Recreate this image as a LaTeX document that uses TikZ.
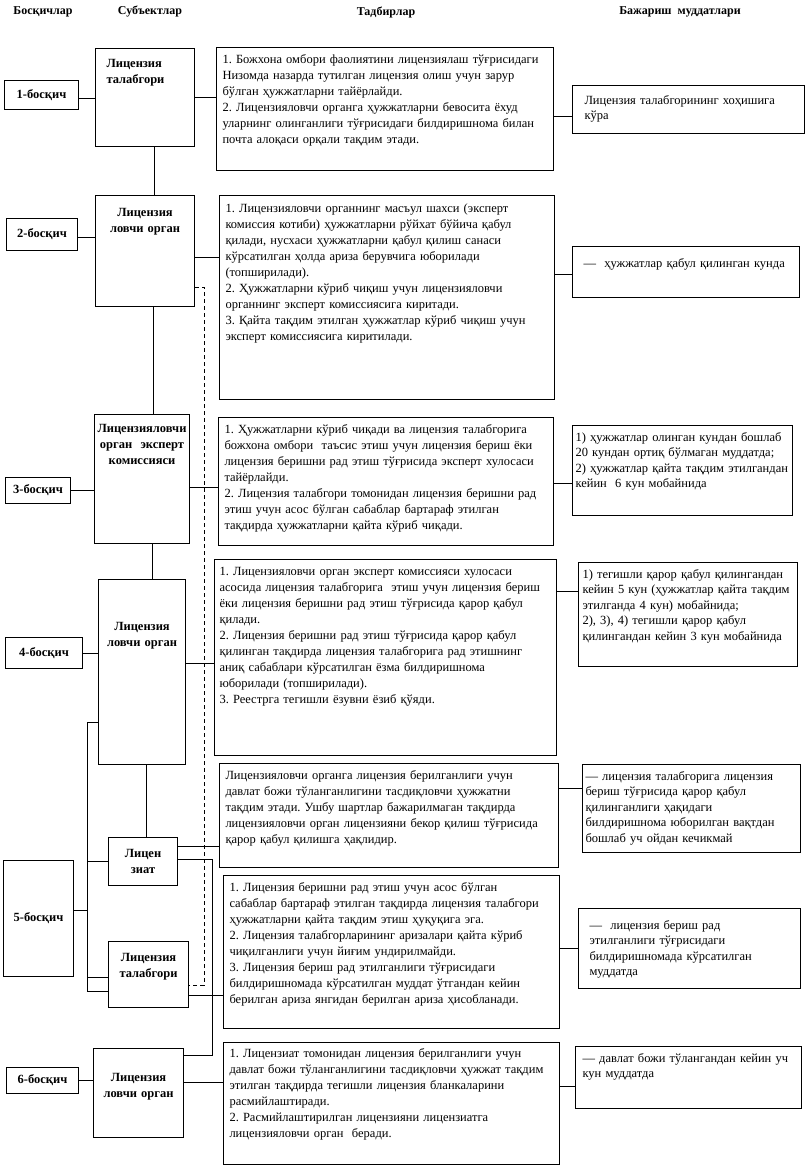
\documentclass[tikz,border=0pt]{standalone}
\usepackage{fontspec}
\setmainfont{Liberation Serif}
\frenchspacing
\tikzset{
  stagebox/.style={draw, line width=1pt, anchor=north west, inner sep=0pt,
    align=center, font=\bfseries\fontsize{12.5}{16}\selectfont},
  subjbox/.style={draw, line width=1pt, anchor=north west, inner xsep=1pt, inner ysep=0pt,
    align=center, font=\bfseries\fontsize{12.5}{16}\selectfont},
  actbox/.style={draw, line width=1pt, anchor=north west, inner xsep=6pt, inner ysep=0pt,
    align=left, text height=16pt, font=\fontsize{12.5}{16}\selectfont},
  timebox/.style={draw, line width=1pt, anchor=north west, inner ysep=0pt,
    align=left, text height=16pt, font=\fontsize{12.5}{15.4}\selectfont},
  colhead/.style={font=\bfseries\fontsize{12}{14}\selectfont},
  link/.style={line width=1pt},
  backlink/.style={line width=1pt, dash pattern=on 4pt off 3pt}
}

\begin{document}
\begin{tikzpicture}[x=1pt, y=-1pt]
  \path[use as bounding box, fill=white] (0,0) rectangle (805,1166);
  % column heads
  \node[colhead] (hstage) at (43,12) {Босқичлар};
  \node[colhead] (hsubj) at (150,12) {Субъектлар};
  \node[colhead] (hact) at (386,12) {Тадбирлар};
  \node[colhead] (htime) at (680,12) {Бажариш\ \ муддатлари};
  % stages
  \node[stagebox, minimum width=74pt, minimum height=29pt] (s1) at (4,80) {1-босқич};
  \node[stagebox, minimum width=71pt, minimum height=32pt] (s2) at (6,218) {2-босқич};
  \node[stagebox, minimum width=65pt, minimum height=26pt] (s3) at (5,477) {3-босқич};
  \node[stagebox, minimum width=77pt, minimum height=31pt] (s4) at (5,637) {4-босқич};
  \node[stagebox, minimum width=70pt, minimum height=116pt] (s5) at (3,860) {5-босқич};
  \node[stagebox, minimum width=72pt, minimum height=26pt] (s6) at (6,1067) {6-босқич};
  % subjects
  \node[subjbox, align=left, inner xsep=11pt, text width=77pt, text height=19pt, text depth=79pt] (u1) at (95,48) {Лицензия\\талабгори};
  \node[subjbox, text width=97pt, text height=21pt, text depth=90pt] (u2) at (95,195) {Лицензия\\ловчи орган};
  \node[subjbox, text width=93pt, text height=18pt, text depth=111pt] (u3) at (94,414) {Лицензияловчи\\орган\ \ эксперт\\комиссияси};
  \node[subjbox, text width=85pt, text height=51pt, text depth=134pt] (u4) at (98,579) {Лицензия\\ловчи орган};
  \node[subjbox, text width=67pt, text height=20pt, text depth=28pt] (u5a) at (108,837) {Лицен\\зиат};
  \node[subjbox, text width=78pt, text height=20pt, text depth=46pt] (u5b) at (108,941) {Лицензия\\талабгори};
  \node[subjbox, text width=88pt, text height=33pt, text depth=56pt] (u6) at (93,1048) {Лицензия\\ловчи орган};
  % actions
  \node[actbox, text width=325pt, text depth=107pt] (a1) at (216,47) {1. Божхона омбори фаолиятини лицензиялаш тўғрисидаги\\
    Низомда назарда тутилган лицензия олиш учун зарур\\
    бўлган ҳужжатларни тайёрлайди.\\
    2. Лицензияловчи органга ҳужжатларни бевосита ёхуд\\
    уларнинг олинганлиги тўғрисидаги билдиришнома билан\\
    почта алоқаси орқали тақдим этади.};
  \node[actbox, text width=323pt, text height=17pt, text depth=187pt] (a2) at (219,195) {1. Лицензияловчи органнинг масъул шахси (эксперт\\
    комиссия котиби) ҳужжатларни рўйхат бўйича қабул\\
    қилади, нусхаси ҳужжатларни қабул қилиш санаси\\
    кўрсатилган ҳолда ариза берувчига юборилади\\
    (топширилади).\\
    2. Ҳужжатларни кўриб чиқиш учун лицензияловчи\\
    органнинг эксперт комиссиясига киритади.\\
    3. Қайта тақдим этилган ҳужжатлар кўриб чиқиш учун\\
    эксперт комиссиясига киритилади.};
  \node[actbox, text width=323pt, text depth=112pt] (a3) at (218,417) {1. Ҳужжатларни кўриб чиқади ва лицензия талабгорига\\
    божхона омбори\ \ таъсис этиш учун лицензия бериш ёки\\
    лицензия беришни рад этиш тўғрисида эксперт хулосаси\\
    тайёрлайди.\\
    2. Лицензия талабгори томонидан лицензия беришни рад\\
    этиш учун асос бўлган сабаблар бартараф этилган\\
    тақдирда ҳужжатларни қайта кўриб чиқади.};
  \node[actbox, inner xsep=5pt, text width=332pt, text depth=180pt] (a4) at (214,559) {1. Лицензияловчи орган эксперт комиссияси хулосаси\\
    асосида лицензия талабгорига\ \ этиш учун лицензия бериш\\
    ёки лицензия беришни рад этиш тўғрисида қарор қабул\\
    қилади.\\
    2. Лицензия беришни рад этиш тўғрисида қарор қабул\\
    қилинган тақдирда лицензия талабгорига рад этишнинг\\
    аниқ сабаблари кўрсатилган ёзма билдиришнома\\
    юборилади (топширилади).\\
    3. Реестрга тегишли ёзувни ёзиб қўяди.};
  \node[actbox, text width=327pt, text depth=88pt] (a5a) at (219,763) {Лицензияловчи органга лицензия берилганлиги учун\\
    давлат божи тўланганлигини тасдиқловчи ҳужжатни\\
    тақдим этади. Ушбу шартлар бажарилмаган тақдирда\\
    лицензияловчи орган лицензияни бекор қилиш тўғрисида\\
    қарор қабул қилишга ҳақлидир.};
  \node[actbox, text width=324pt, text depth=137pt] (a5b) at (223,875) {1. Лицензия беришни рад этиш учун асос бўлган\\
    сабаблар бартараф этилган тақдирда лицензия талабгори\\
    ҳужжатларни қайта тақдим этиш ҳуқуқига эга.\\
    2. Лицензия талабгорларининг аризалари қайта кўриб\\
    чиқилганлиги учун йиғим ундирилмайди.\\
    3. Лицензия бериш рад этилганлиги тўғрисидаги\\
    билдиришномада кўрсатилган муддат ўтгандан кейин\\
    берилган ариза янгидан берилган ариза ҳисобланади.};
  \node[actbox, text width=324pt, text height=15pt, text depth=107pt] (a6) at (223,1042) {1. Лицензиат томонидан лицензия берилганлиги учун\\
    давлат божи тўланганлигини тасдиқловчи ҳужжат тақдим\\
    этилган тақдирда тегишли лицензия бланкаларини\\
    расмийлаштиради.\\
    2. Расмийлаштирилган лицензияни лицензиатга\\
    лицензияловчи орган\ \ беради.};
  % time limits
  \node[timebox, inner xsep=12pt, text width=208pt, text height=19pt, text depth=29pt] (t1) at (572,85) {Лицензия талабгорининг хоҳишига\\кўра};
  \node[timebox, inner xsep=11pt, text width=205pt, text height=21pt, text depth=30pt] (t2) at (572,246) {—\ \ ҳужжатлар қабул қилинган кунда};
  \node[timebox, inner xsep=3pt, text width=214pt, text depth=74pt] (t3) at (572,425) {1) ҳужжатлар олинган кундан бошлаб\\
    20 кундан ортиқ бўлмаган муддатда;\\
    \mbox{2) ҳужжатлар қайта тақдим этилгандан}\\
    кейин\ \ 6 кун мобайнида};
  \node[timebox, inner xsep=4pt, text width=211pt, text depth=88pt] (t4) at (578,562) {1) тегишли қарор қабул қилингандан\\
    кейин 5 кун (ҳужжатлар қайта тақдим\\
    этилганда 4 кун) мобайнида;\\
    2), 3), 4) тегишли қарор қабул\\
    қилингандан кейин 3 кун мобайнида};
  \node[timebox, inner xsep=3pt, text width=212pt, text depth=72pt] (t5a) at (582,764) {— лицензия талабгорига лицензия\\
    бериш тўғрисида қарор қабул\\
    қилинганлиги ҳақидаги\\
    билдиришнома юборилган вақтдан\\
    бошлаб уч ойдан кечикмай};
  \node[timebox, inner xsep=11pt, text width=200pt, text height=21pt, text depth=59pt] (t5b) at (578,908) {—\ \ лицензия бериш рад\\
    этилганлиги тўғрисидаги\\
    билдиришномада кўрсатилган\\
    муддатда};
  \node[timebox, inner xsep=7pt, text width=212pt, text depth=46pt] (t6) at (575,1046) {— давлат божи тўлангандан кейин уч\\кун муддатда};
  % bends of the long connectors
  \coordinate (dtop) at (204,287);
  \coordinate (dbot) at (204,985);
  \coordinate (btop) at (87,722);
  \coordinate (bbot) at (87,991);
  \coordinate (rtop) at (212,859);
  \coordinate (rbot) at (212,1055);
  % stage 1
  \draw[link] ([yshift=-3.5pt]s1.east) -- ([yshift=-3.5pt]s1.east -| u1.west);
  \draw[link] (u1.east) -- (u1.east -| a1.west);
  \draw[link] ([yshift=-7pt]t1.west) -- ([yshift=-7pt]t1.west -| a1.east);
  \draw[link] ([xshift=9.5pt]u1.south) -- ([xshift=9.5pt]u1.south |- u2.north);
  % stage 2
  \draw[link] ([yshift=-3pt]s2.east) -- ([yshift=-3pt]s2.east -| u2.west);
  \draw[link] ([yshift=-6.5pt]u2.east) -- ([yshift=-6.5pt]u2.east -| a2.west);
  \draw[link] ([yshift=-2.5pt]t2.west) -- ([yshift=-2.5pt]t2.west -| a2.east);
  \draw[backlink] (dtop -| u2.east) -- (dtop) -- (dbot) -- (dbot -| u5b.east);
  \draw[link] ([xshift=8.5pt]u2.south) -- ([xshift=8.5pt]u2.south |- u3.north);
  % stage 3
  \draw[link] (s3.east) -- (s3.east -| u3.west);
  \draw[link] ([yshift=-6pt]a3.west) -- ([yshift=-6pt]a3.west -| u3.east);
  \draw[link] ([yshift=-2pt]a3.east) -- ([yshift=-2pt]a3.east -| t3.west);
  \draw[link] ([xshift=10.5pt]u3.south) -- ([xshift=10.5pt]u3.south |- u4.north);
  % stage 4
  \draw[link] (s4.east) -- (s4.east -| u4.west);
  \draw[link] ([yshift=-6pt]a4.west) -- ([yshift=-6pt]a4.west -| u4.east);
  \draw[link] ([yshift=23pt]t4.west) -- ([yshift=23pt]t4.west -| a4.east);
  \draw[link] ([xshift=4.5pt]u4.south) -- ([xshift=4.5pt]u4.south |- u5a.north);
  % stage 5
  \draw[link] (btop -| u4.west) -- (btop) -- (bbot) -- (bbot -| u5b.west);
  \draw[link] ([yshift=8pt]s5.east) -- ([yshift=8pt]s5.east -| btop);
  \draw[link] (u5a.west) -- (u5a.west -| btop);
  \draw[link] ([yshift=-3pt]u5b.west) -- ([yshift=-3pt]u5b.west -| btop);
  \draw[link] ([yshift=15pt]u5a.east) -- ([yshift=15pt]u5a.east -| a5a.west);
  \draw[link] (rtop -| u5a.east) -- (rtop) -- (rbot) -- (rbot -| u6.east);
  \draw[link] ([yshift=20pt]t5a.west) -- ([yshift=20pt]t5a.west -| a5a.east);
  \draw[link] ([yshift=-21pt]u5b.east) -- ([yshift=-21pt]u5b.east -| a5b.west);
  \draw[link] (t5b.west) -- (t5b.west -| a5b.east);
  % stage 6
  \draw[link] (s6.east) -- (s6.east -| u6.west);
  \draw[link] ([yshift=10.5pt]u6.east) -- ([yshift=10.5pt]u6.east -| a6.west);
  \draw[link] ([yshift=-9pt]t6.west) -- ([yshift=-9pt]t6.west -| a6.east);
\end{tikzpicture}
\end{document}
